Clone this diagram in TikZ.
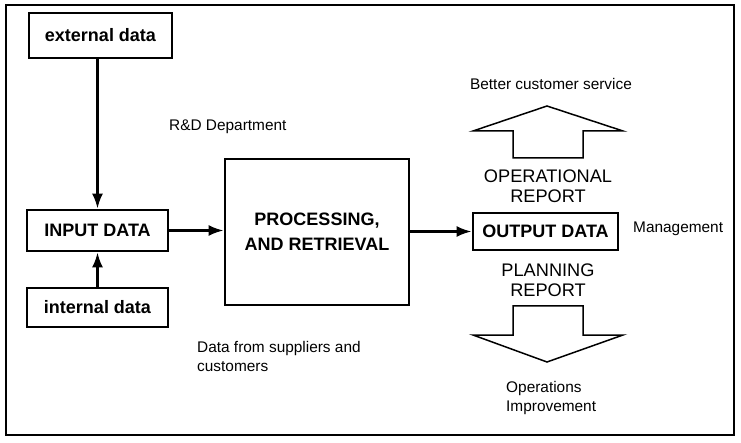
\documentclass[tikz,border=0pt]{standalone}
\usepackage{fontspec}
\setmainfont{Liberation Sans}
\usetikzlibrary{positioning,arrows.meta}

\begin{document}
\begin{tikzpicture}[x=1pt,y=-1pt,
  box/.style={draw,line width=2.8pt,inner sep=0pt,font=\fontsize{18}{20}\selectfont\bfseries},
  lbl/.style={font=\fontsize{15.4}{19}\selectfont,align=left,inner sep=0pt},
  rpt/.style={font=\fontsize{18.2}{20}\selectfont,align=center,inner sep=0pt},
  flow/.style={line width=2.4pt,-{Latex[length=15pt,width=11pt]}},
  blockarrow/.style={line width=1.5pt,line join=miter}]
  \useasboundingbox (0,0) rectangle (741,443);
  \draw[line width=2.2pt] (6,5) rectangle (734,435);
  % boxes
  \node[box,minimum width=143pt,minimum height=45pt] (ext) at (100.5,35.5) {external data};
  \node[box,minimum width=141pt,minimum height=41pt] (inp) at (97.5,230.5) {INPUT DATA};
  \node[box,minimum width=141pt,minimum height=39pt] (intl) at (97.5,307.5) {internal data};
  \node[box,minimum width=184pt,minimum height=146pt,align=center,
        font=\fontsize{18}{25}\selectfont\bfseries] (proc) at (317,232) {PROCESSING,\\AND RETRIEVAL};
  \node[box,minimum width=145pt,minimum height=37pt] (outp) at (545.5,231.5) {OUTPUT DATA};
  % flows
  \draw[flow] (inp.north |- ext.south) -- (inp.north);
  \draw[flow] (intl) -- (inp);
  \draw[flow] (inp.east) -- (inp.east -| proc.west);
  \draw[flow] (proc.east |- outp.west) -- (outp.west);
  % reports
  \node[rpt] (oprep) at (548,186) {OPERATIONAL\\REPORT};
  \node[rpt] (plrep) at (548,280) {PLANNING\\REPORT};
  \draw[blockarrow] (513,158) -- (513,131) -- (473,131) -- (547,106) -- (623,131) -- (583,131) -- (583,158) -- cycle;
  \draw[blockarrow] (513,306) -- (583,306) -- (583,335) -- (623,335) -- (547,362) -- (473,335) -- (513,335) -- cycle;
  % labels
  \node[lbl] (bcs) at (551,84) {Better customer service};
  \node[lbl,anchor=west] (rnd) at (169,127) {R\&D Department};
  \node[lbl,anchor=west] (mgmt) at (633,229) {Management};
  \node[lbl,anchor=west] (sup) at (197,356.5) {Data from suppliers and\\customers};
  \node[lbl,anchor=west] (opimp) at (506,398) {Operations\\Improvement};
\end{tikzpicture}
\end{document}
